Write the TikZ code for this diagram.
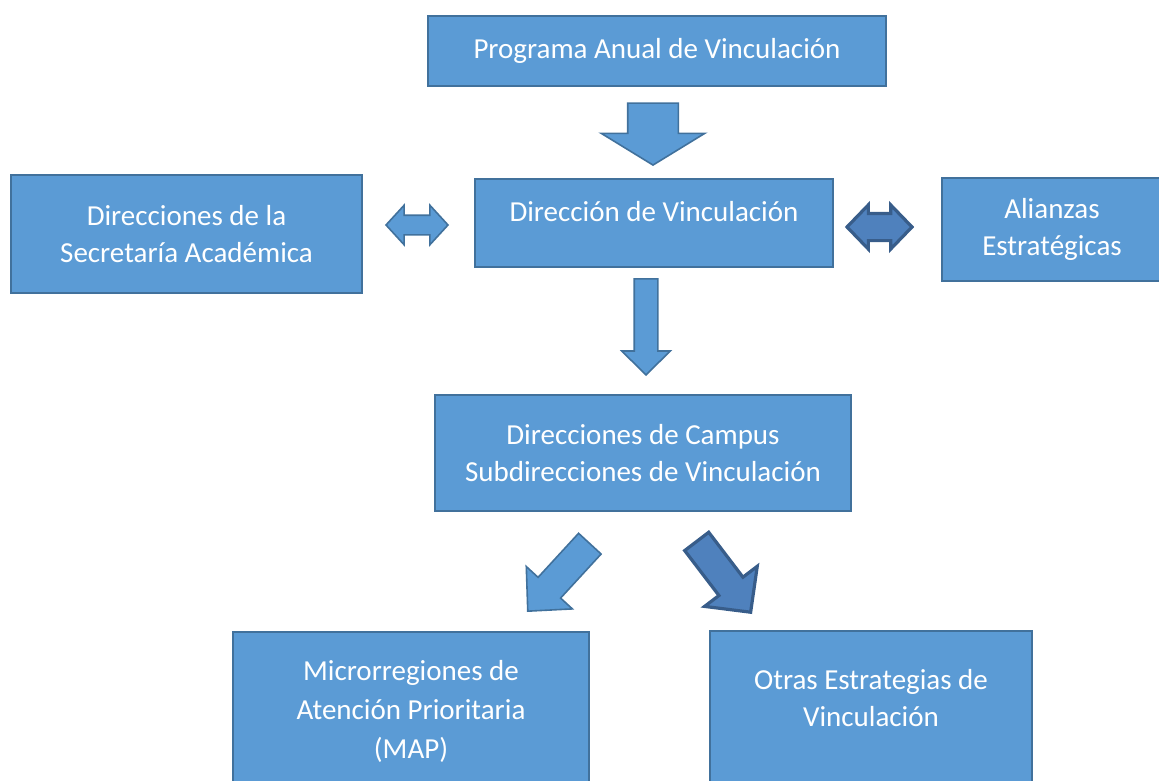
\documentclass[tikz,border=0pt]{standalone}
\usepackage{fontspec}
\setmainfont{Carlito}
\usetikzlibrary{shapes.arrows}
\definecolor{BoxBlue}{HTML}{5B9BD5}
\definecolor{BoxEdge}{HTML}{41719C}
\definecolor{DarkFill}{HTML}{4F81BD}
\definecolor{DarkEdge}{HTML}{385D8A}
\tikzset{
  blockbox/.style={draw=BoxEdge, fill=BoxBlue, line width=1.8pt, text=white,
                   align=center, inner sep=0pt, font=\fontsize{29}{37}\selectfont},
  onearrow/.style={single arrow, draw=BoxEdge, fill=BoxBlue, line width=1.6pt,
                   inner sep=0pt, minimum width=0pt, text depth=0pt},
  twoarrow/.style={double arrow, draw=BoxEdge, fill=BoxBlue, line width=1.6pt,
                   inner sep=0pt, minimum width=0pt, text depth=0pt},
  darkarrow/.style={draw=DarkEdge, fill=DarkFill, line width=3.2pt}
}
\begin{document}
\begin{tikzpicture}[x=1pt, y=-1pt]
\useasboundingbox (0,0) rectangle (1159,781);
% boxes
\node[blockbox, minimum width=458pt, minimum height=70pt] (prog) at (657,51)
  {Programa Anual de Vinculación};
\node[blockbox, minimum width=358pt, minimum height=88pt, text depth=24pt] (dirv) at (654,223)
  {Dirección de Vinculación};
\node[blockbox, minimum width=351pt, minimum height=118pt] (secac) at (186.5,234)
  {Direcciones de la\\Secretaría Académica};
\node[blockbox, minimum width=220pt, minimum height=103pt] (alian) at (1052,229.5)
  {Alianzas\\Estratégicas};
\node[blockbox, minimum width=416pt, minimum height=116pt] (campus) at (643,453)
  {Direcciones de Campus\\Subdirecciones de Vinculación};
\node[blockbox, minimum width=356pt, minimum height=158pt,
      font=\fontsize{29}{39}\selectfont] (map) at (411,711)
  {Microrregiones de\\Atención Prioritaria\\(MAP)};
\node[blockbox, minimum width=322pt, minimum height=159pt, text depth=25pt] (otras) at (871,710.5)
  {Otras Estrategias de\\Vinculación};
% block arrows
\node[onearrow, rotate=-90, anchor=tip, minimum height=62pt, text height=49pt,
      single arrow head extend=26.5pt, single arrow tip angle=117] (progdirv) at (653,166) {};
\node[onearrow, rotate=-90, anchor=tip, minimum height=96pt, text height=22pt,
      single arrow head extend=12.5pt, single arrow tip angle=91] (dirvcampus) at (646,376) {};
\node[twoarrow, minimum height=62pt, text height=18pt,
      double arrow head extend=10pt, double arrow tip angle=95] (secacdirv) at (417,225) {};
\node[twoarrow, darkarrow, minimum height=65pt, text height=24pt,
      double arrow head extend=8.5pt, double arrow tip angle=92] (dirvalian) at (879.5,227) {};
\node[onearrow, rotate=227.4, anchor=tip, minimum height=91.7pt, text height=29pt,
      single arrow head extend=16pt, single arrow tip angle=89] (campusmap) at (527,612) {};
\node[onearrow, darkarrow, rotate=-52.7, anchor=tip, minimum height=89pt, text height=27pt,
      single arrow head extend=18pt, single arrow tip angle=91] (campusotras) at (752,614) {};
\end{tikzpicture}
\end{document}
